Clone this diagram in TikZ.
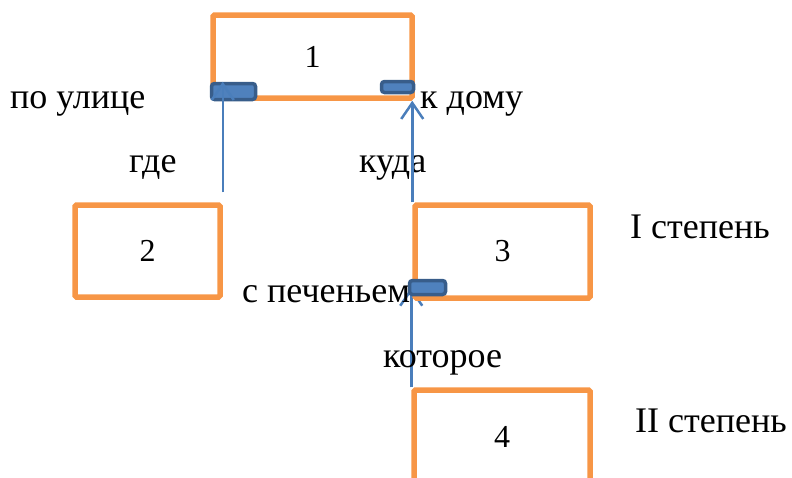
\documentclass[tikz,border=0pt]{standalone}
\usepackage{fontspec}
\setmainfont{Liberation Serif}
\usetikzlibrary{calc,backgrounds,arrows.meta}
\usetikzlibrary{positioning}
\definecolor{boxor}{HTML}{F79646}
\definecolor{linebl}{HTML}{4A7EBB}
\definecolor{mkfill}{HTML}{4F81BD}
\definecolor{mkdraw}{HTML}{385D8A}

\begin{document}
\begin{tikzpicture}[x=1pt,y=-1pt,
		blk/.style={draw=boxor,line width=5.5pt,rounded corners=1.5pt,inner sep=0pt,
			font=\fontsize{32}{36}\selectfont},
		mrk/.style={draw=mkdraw,fill=mkfill,line width=3.5pt,rounded corners=3pt,inner sep=0pt},
		lbl/.style={anchor=base west,inner sep=0pt,font=\fontsize{36}{40}\selectfont},
		arr/.style={draw=linebl,line width=2.5pt,-{Straight Barb[length=16pt,width=22pt]}}]
						\clip (0,0) rectangle (792,477);
						\node[blk,minimum width=199pt,minimum height=83pt] (b1) at (312.5,56.5) {1};
						\node[blk,minimum width=145pt,minimum height=92pt] (b2) at (147.5,251) {2};
						\node[blk,minimum width=175pt,minimum height=93pt] (b3) at (502.5,251.5) {3};
						\node[blk,minimum width=176pt,minimum height=93pt] (b4) at (502,436.5) {4};
						\node[mrk,minimum width=44pt,minimum height=16pt] (m1) at (233.5,91.5) {};
						% labels
						\node[lbl] (ulica) at (10,108) {по улице};
						\node[lbl] (domu) at (420,108) {к дому};
						\node[lbl] (gde) at (129,172) {где};
						\node[lbl] (kuda) at (359,172) {куда};
						\node[lbl] (st1) at (630,238) {I степень};
						\node[lbl] (pech) at (242,302) {с печеньем};
						\node[lbl] (kotor) at (383,367) {которое};
						\node[lbl] (st2) at (635,432) {II степень};
						% arrows
						\draw[arr] ($(b2.north east)+(0,-10)$) -- (b2.north east |- m1.north); % gde
						\draw[arr] (b3.north west) -- (b3.north west |- b1.south); % kuda
						\node[mrk,minimum width=32pt,minimum height=11pt] (m2) at (397.5,87) {};
						\node[mrk,minimum width=36pt,minimum height=14pt] (m3) at (427.5,287.5) {};
						\begin{pgfonlayer}{background}
						\draw[arr] (b4.north west) -- (b4.north west |- m3.center); % kotoroe
						\end{pgfonlayer}
				\end{tikzpicture}
\end{document}
